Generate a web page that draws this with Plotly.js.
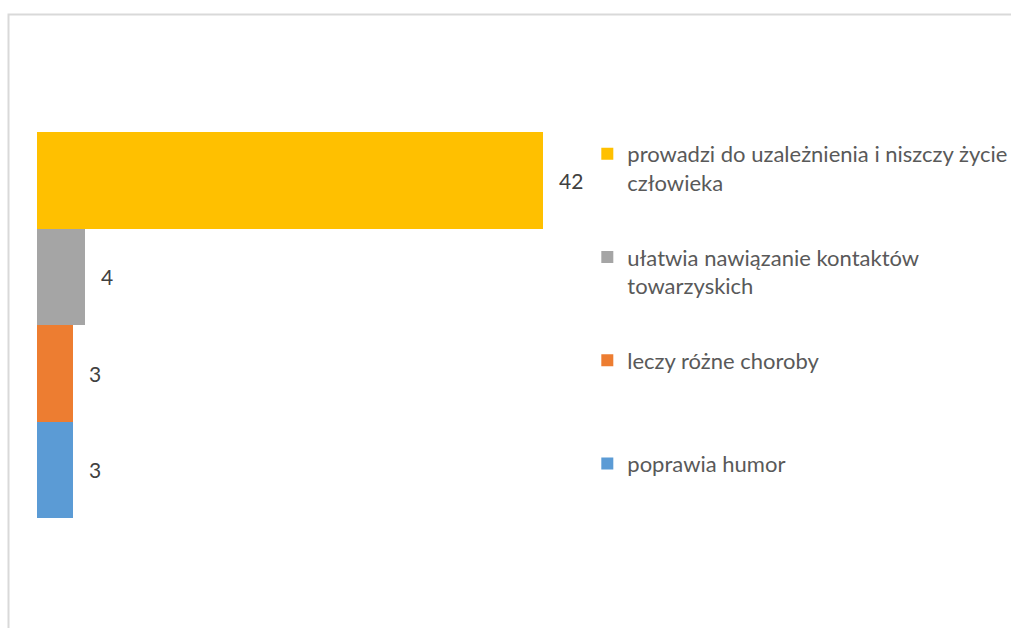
<!DOCTYPE html>
<html>
<head>
<meta charset="utf-8">
<script src="https://cdn.plot.ly/plotly-3.0.1.min.js"></script>
<style>html,body{margin:0;padding:0;background:#fff;}#chart{width:1011px;height:628px;}</style>
</head>
<body>
<div id="chart"></div>
<script>
// top-to-bottom order (legend order)
const categories = ["prowadzi do uzależnienia i niszczy życie człowieka", "ułatwia nawiązanie kontaktów towarzyskich", "leczy różne choroby", "poprawia humor"];
const legendLabels = ["prowadzi do uzależnienia i niszczy życie<br>człowieka", "ułatwia nawiązanie kontaktów<br>towarzyskich", "leczy różne choroby<br> ", "poprawia humor<br> "];
const values = [42, 4, 3, 3];
const colors = ["#FFC000", "#A5A5A5", "#ED7D31", "#5B9BD5"];

const FONT = "Lato, 'Open Sans', sans-serif";

const traces = categories.map((c, i) => ({
  type: "bar",
  orientation: "h",
  x: [values[i]],
  y: [c],
  name: legendLabels[i],
  legendgroup: "g" + i,
  marker: {color: colors[i], line: {width: 0}},
  hoverinfo: "skip"
}));

const annotations = categories.map((c, i) => ({
  x: values[i], y: c, xref: "x", yref: "y",
  text: String(values[i]), showarrow: false,
  xanchor: "left", xshift: 14,
  font: {family: FONT, size: 21, color: "#404040"}
}));

const layout = {
  width: 1011, height: 628,
  margin: {l: 37, r: 0, t: 132, b: 110, autoexpand: false},
  paper_bgcolor: "#fff", plot_bgcolor: "#fff",
  barmode: "stack", bargap: 0,
  showlegend: true,
  xaxis: {visible: false, domain: [0, 0.6], range: [0, 584.4 / (506 / 42)], fixedrange: true},
  yaxis: {visible: false, type: "category", categoryorder: "array", categoryarray: categories.slice().reverse(), range: [-0.5, 3.5], fixedrange: true},
  legend: {
    x: 0.565, xanchor: "left", y: 1 - 1 / 386, yanchor: "top",
    traceorder: "grouped", tracegroupgap: 43, valign: "top",
    font: {family: FONT, size: 22, color: "#595959"},
    itemwidth: 30, bgcolor: "rgba(0,0,0,0)"
  },
  annotations: annotations,
  shapes: [{
    type: "rect", xref: "paper", yref: "paper",
    x0: (8.5 - 37) / 974, x1: 1.2, y0: -0.6, y1: 1 + (132 - 14.5) / 386,
    line: {color: "#d9d9d9", width: 2}, fillcolor: "rgba(0,0,0,0)", layer: "below"
  }]
};

Plotly.newPlot("chart", traces, layout, {displayModeBar: false, staticPlot: true});
</script>
</body>
</html>
